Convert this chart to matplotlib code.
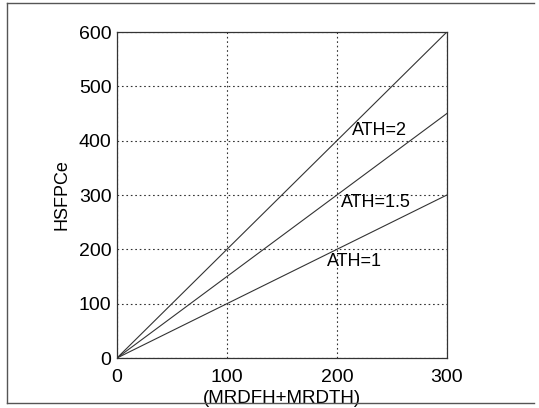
import matplotlib
matplotlib.use("Agg")
import matplotlib.pyplot as plt
from matplotlib.lines import Line2D

plt.rcParams['font.family'] = ['Liberation Sans', 'DejaVu Sans']

x_vals = [0, 300]
ath_labels = ["ATH=1", "ATH=1.5", "ATH=2"]
y_ath1 = [0, 300]
y_ath15 = [0, 450]
y_ath2 = [0, 600]
label_pos_x = [191, 204, 214]
label_pos_y = [177, 287, 418]
x_ticks = [0, 100, 200, 300]
y_ticks = [0, 100, 200, 300, 400, 500, 600]

fig = plt.figure(figsize=(5.39, 4.08), dpi=100)
# scan frame lines (left, top, bottom)
for xs, ys in (([0.013, 0.013], [0.012, 0.992]),
               ([0.013, 0.99], [0.992, 0.992]),
               ([0.013, 0.99], [0.012, 0.012])):
    fig.add_artist(Line2D(xs, ys, transform=fig.transFigure, color='#555555', linewidth=1.0))

ax = fig.add_axes([0.217, 0.1225, 0.612, 0.799])

for y in (y_ath1, y_ath15, y_ath2):
    ax.plot(x_vals, y, color='#333333', linewidth=0.8)

for lab, lx, ly in zip(ath_labels, label_pos_x, label_pos_y):
    ax.text(lx, ly, lab, fontsize=13, ha='left', va='center')

ax.set_xlim(0, 300)
ax.set_ylim(0, 600)
ax.set_xticks(x_ticks)
ax.set_yticks(y_ticks)
ax.tick_params(labelsize=14, direction='in', length=0)
ax.tick_params(axis='x', pad=8)
ax.tick_params(axis='y', pad=4)
ax.grid(True, linestyle=(0, (1.5, 2.5)), color='#333333', linewidth=0.8)
for s in ax.spines.values():
    s.set_linewidth(0.9)
    s.set_color('#333333')
ax.set_xlabel("(MRDFH+MRDTH)", fontsize=13.5)
ax.xaxis.set_label_coords(0.5, -0.098)
ax.xaxis.label.set_va('top')
ax.set_ylabel("HSFPCe", fontsize=13)
ax.yaxis.set_label_coords(-0.14, 0.5)

fig.savefig("out.png", dpi=100)
